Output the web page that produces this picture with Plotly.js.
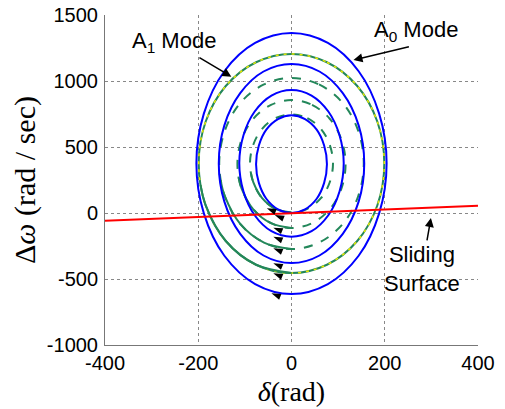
<!DOCTYPE html>
<html>
<head>
<meta charset="utf-8">
<script src="https://cdn.plot.ly/plotly-3.0.1.min.js"></script>
<style>html,body{margin:0;padding:0;background:#fff;}#chart{width:505px;height:409px;}</style>
</head>
<body>
<div id="chart"></div>
<script>
// A0 mode trajectories (blue, solid)
const b1X = [0, 29, 54, 70, 76, 70, 54, 29, 0, -29, -54, -70, -76, -70, -54, -29, 0];
const b1Y = [740, 712, 632, 512, 370, 228, 108, 28, 0, 28, 108, 228, 370, 512, 632, 712, 740];
const b2X = [0, 43, 79, 103, 112, 103, 79, 43, 0, -43, -79, -103, -112, -103, -79, -43, 0];
const b2Y = [932, 890, 769, 589, 376, 163, -17, -138, -180, -138, -17, 163, 376, 589, 769, 890, 932];
const b3X = [0, 60, 110, 144, 156, 144, 110, 60, 0, -60, -110, -144, -156, -144, -110, -60, 0];
const b3Y = [1129, 1072, 908, 664, 375, 86, -158, -322, -379, -322, -158, 86, 375, 664, 908, 1072, 1129];
const b4X = [0, 78, 144, 188, 204, 188, 144, 78, 0, -78, -144, -188, -204, -188, -144, -78, 0];
const b4Y = [1363, 1288, 1074, 753, 375, -3, -324, -538, -613, -538, -324, -3, 375, 753, 1074, 1288, 1363];

// A1 mode trajectories (green, dashed)
const g1X = [0, 34, 63, 82, 89, 82, 63, 34, 0, -34, -63, -82, -89, -82, -63, -34, 0];
const g1Y = [747, 719, 638, 517, 375, 233, 112, 31, 3, 31, 112, 233, 375, 517, 638, 719, 747];
const g2X = [0, 44, 82, 107, 116, 107, 82, 44, 0, -44, -82, -107, -116, -107, -82, -44, 0];
const g2Y = [856, 819, 714, 557, 371, 185, 28, -77, -114, -77, 28, 185, 371, 557, 714, 819, 856];
const g3X = [0, 59, 110, 143, 155, 143, 110, 59, 0, -59, -110, -143, -155, -143, -110, -59, 0];
const g3Y = [1023, 974, 833, 623, 375, 127, -83, -224, -273, -224, -83, 127, 375, 623, 833, 974, 1023];
const g4X = [0, 76, 141, 184, 199, 184, 141, 76, 0, -76, -141, -184, -199, -184, -141, -76, 0];
const g4Y = [1205, 1142, 962, 693, 375, 57, -212, -392, -455, -392, -212, 57, 375, 693, 962, 1142, 1205];

// solid green arcs (lower-left part of the A1 trajectories)
const s1X = [0, -34, -63, -82, -87];    const s1Y = [3, 31, 112, 233, 302];
const s2X = [0, -44, -82, -107, -114];  const s2Y = [-114, -77, 28, 185, 276];
const s3X = [0, -59, -110, -143, -152]; const s3Y = [-273, -224, -83, 127, 249];
const s4X = [0, -76, -141, -184, -195]; const s4Y = [-455, -392, -212, 57, 213];

// sliding surface
const slideX = [-400, 400];
const slideY = [-58, 54];

// direction arrowheads on the trajectories
const arrowX = [-53, -36, -39, -39, -39, -39, -39, -43];
const arrowY = [36, -15, -111, -180, -267, -381, -457, -608];

// tick labels
const xTicks = [-400, -200, 0, 200, 400];
const yTicks = [-1000, -500, 0, 500, 1000, 1500];

const BLUE = '#0000ff', GREEN = '#23875a', YEL = '#e8e800';
function tr(x, y, color, dash, width) {
  return {x: x, y: y, type: 'scatter', mode: 'lines', hoverinfo: 'skip',
    line: {color: color, width: width || 2, dash: dash || 'solid', shape: 'spline', smoothing: 1}};
}
const data = [
  tr(g1X, g1Y, GREEN, 'dash'), tr(g2X, g2Y, GREEN, 'dash'), tr(g3X, g3Y, GREEN, 'dash'),
  tr(g4X, g4Y, GREEN, 'solid'), tr(g4X, g4Y, YEL, '3px,5px', 1.5),
  tr(s1X, s1Y, GREEN), tr(s2X, s2Y, GREEN), tr(s3X, s3Y, GREEN), tr(s4X, s4Y, GREEN),
  tr(b1X, b1Y, BLUE), tr(b2X, b2Y, BLUE), tr(b3X, b3Y, BLUE), tr(b4X, b4Y, BLUE),
  {x: slideX, y: slideY, type: 'scatter', mode: 'lines', hoverinfo: 'skip', line: {color: '#ff0000', width: 2}},
  {x: arrowX, y: arrowY, type: 'scatter', mode: 'markers', hoverinfo: 'skip',
    marker: {symbol: 'arrow', size: 10, color: '#000', angle: -68, line: {width: 0}}}
];

const txtFont = {family: 'Liberation Sans, Arial, sans-serif', size: 22, color: '#000'};
const arrowStyle = {showarrow: true, arrowhead: 2, arrowsize: 1.2, arrowwidth: 1.5, arrowcolor: '#000'};
const annotations = [
  Object.assign({x: -129, y: 1033, ax: -253, ay: 1295, axref: 'x', ayref: 'y', xref: 'x', yref: 'y',
    text: 'A<sub>1</sub> Mode', font: txtFont}, arrowStyle),
  {x: 268, y: 1379, xref: 'x', yref: 'y', text: 'A<sub>0</sub> Mode', showarrow: false, font: txtFont},
  Object.assign({x: 133, y: 1159, ax: 255, ay: 1262, axref: 'x', ayref: 'y', xref: 'x', yref: 'y', text: ''}, arrowStyle),
  Object.assign({x: 299, y: -38, ax: 280, ay: -424, axref: 'x', ayref: 'y', xref: 'x', yref: 'y',
    text: 'Sliding<br>Surface', font: txtFont}, arrowStyle)
];

const tickFont = {family: 'Liberation Sans, Arial, sans-serif', size: 20, color: '#000'};
const layout = {
  width: 505, height: 409,
  margin: {l: 105, r: 27, t: 15, b: 64},
  paper_bgcolor: '#fff', plot_bgcolor: '#fff',
  showlegend: false,
  xaxis: {
    range: [-400, 400], tickvals: xTicks, ticktext: xTicks.map(String),
    showgrid: true, gridcolor: '#888', griddash: 'dot', gridwidth: 1,
    zeroline: false, showline: true, linecolor: '#777', linewidth: 1, mirror: false,
    ticks: '', tickfont: tickFont,
    title: {text: '<i>δ</i>(rad)', font: {family: 'Liberation Serif, Times New Roman, serif', size: 28, color: '#000'}, standoff: 8}
  },
  yaxis: {
    range: [-1000, 1500], tickvals: yTicks, ticktext: yTicks.map(String),
    showgrid: true, gridcolor: '#888', griddash: 'dot', gridwidth: 1,
    zeroline: false, showline: true, linecolor: '#777', linewidth: 1, mirror: false,
    ticks: '', tickfont: tickFont, ticklabelstandoff: 2,
    title: {text: 'Δ<i>ω</i> (rad / sec)', font: {family: 'Liberation Serif, Times New Roman, serif', size: 30, color: '#000'}, standoff: 2}
  },
  annotations: annotations
};
Plotly.newPlot('chart', data, layout, {staticPlot: true, displayModeBar: false});
</script>
</body>
</html>
